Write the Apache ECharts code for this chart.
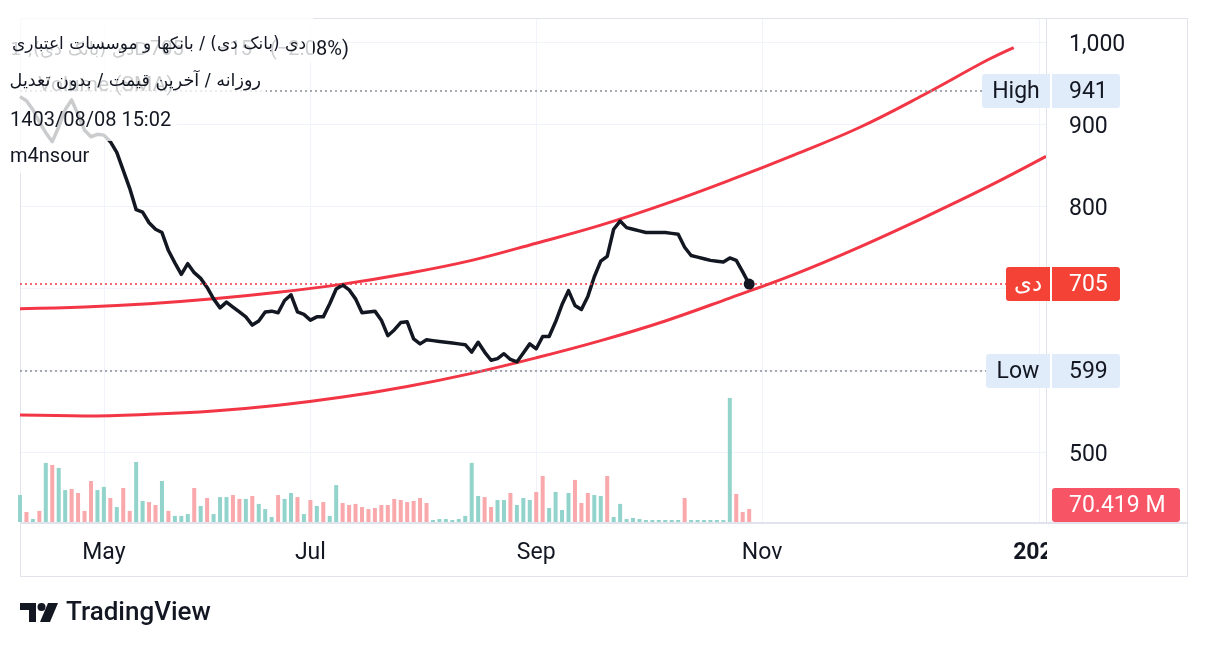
<!DOCTYPE html>
<html><head><meta charset="utf-8">
<script src="https://cdn.jsdelivr.net/npm/echarts@6/dist/echarts.min.js"></script>
<style>html,body{margin:0;padding:0;background:#fff;}#c{width:1208px;height:648px;}</style>
</head><body><div id="c"></div>
<script>
// ---- data ----
const closes = [
934,929,918,903,890,879,897,918,930,912,
893,885,888,887,879,866,844,822,796,793,
780,772,768,746,731,717,730,719,712,701,
687,676,683,677,671,665,655,660,671,672,
670,685,692,671,668,661,665,665,681,699,
704,698,687,670,671,672,661,642,649,658,
659,638,632,637,636,635,634,633,632,631,
622,634,622,612,614,620,613,610,621,632,
626,641,641,659,680,697,679,674,690,714,
733,739,772,782,774,772,770,768,768,768,
768,767,766,750,740,738,736,734,733,732,
737,734,720,705];
const volumesM = [
146,54,16,60,320,309,293,173,179,157,
60,222,173,190,130,81,184,60,325,114,
108,92,222,60,33,33,43,184,87,130,
43,135,135,146,125,125,141,98,70,27,
146,125,157,135,43,119,87,108,33,200,
103,92,98,81,70,76,92,92,125,119,
108,114,130,103,11,16,16,11,16,33,
320,141,135,81,119,119,157,92,130,119,
163,249,76,163,65,157,228,103,157,146,
141,249,27,98,16,22,16,11,11,11,
11,11,11,130,11,11,11,11,11,11,
672,152,54,70.419];
const volumeUp = [
1,0,1,0,1,0,1,1,0,0,
0,0,1,1,0,1,0,0,1,1,
0,0,1,0,1,1,1,0,1,0,
1,1,1,0,0,1,0,1,1,1,
0,1,1,0,1,0,1,0,1,1,
0,0,0,0,0,0,0,0,0,0,
0,0,0,0,1,1,1,1,1,1,
1,1,0,0,1,1,0,1,1,1,
0,0,1,1,1,1,0,0,0,1,
1,0,1,1,1,1,1,1,1,1,
1,1,1,0,1,1,1,1,1,1,
1,0,0,0];
const upperIdx = [0,10,20,30,40,50,60,70,80,90,100,110,120,130,140,150,154];
const upperVal = [675,677,681,687,695,705,718,734,755,777,803,832,863,896,936,979,994];
const lowerIdx = [0,10,20,30,40,50,60,70,80,90,100,110,120,130,140,150,159];
const lowerVal = [545,544,546,550,557,567,580,596,615,636,660,688,717,750,786,824,861];
const tickIdx = [13,45,80,115,158];
const tickLabels = ['May','Jul','Sep','Nov','2025'];
const tickBold = [false,false,false,false,true];
const slotCount = 160;
const priceMin = 414.45, priceMax = 1030.05;
const highValue = 941, lowValue = 599, lastClose = 705;
const lastVolumeText = '70.419 M';
const hiddenPriceLabels = [600, 700];

// ---- chart ----
const TXT = '#131722', GRID = '#f0f3fa', BORDER = '#e0e3eb';
const UPV = '#92d4cb', DNV = '#f9a8ab', RED = '#f23645';
const slots = Array.from({length: slotCount}, (_, i) => String(i));
const chart = echarts.init(document.getElementById('c'), null, {renderer: 'canvas'});
const FONT = 'Roboto';
const FA = '"DejaVu Sans", Roboto';
const isTick = (i) => tickIdx.indexOf(i) >= 0;

chart.setOption({
  animation: false,
  backgroundColor: '#fff',
  grid: {left: 20, right: 162, top: 18, bottom: 126, containLabel: false},
  xAxis: {
    type: 'category', data: slots, boundaryGap: false,
    axisLine: {show: false}, axisTick: {show: false},
    axisLabel: {
      interval: (i) => isTick(i), margin: 20, fontSize: 23, fontFamily: FONT, color: TXT,
      formatter: (v, i) => { const k = tickIdx.indexOf(i); if (k < 0) return ''; return tickBold[k] ? '{b|' + tickLabels[k] + '}' : tickLabels[k]; },
      rich: {b: {fontSize: 23, fontFamily: FONT, fontWeight: 'bold', color: TXT}}
    },
    splitLine: {show: true, interval: (i) => isTick(i), lineStyle: {color: GRID, width: 1}}
  },
  yAxis: [
    {type: 'value', position: 'right', min: priceMin, max: priceMax, splitNumber: 5,
     axisLine: {show: false}, axisTick: {show: false},
     axisLabel: {margin: 23, fontSize: 23, fontFamily: FONT, color: TXT, showMinLabel: false, showMaxLabel: false,
       formatter: (v) => (hiddenPriceLabels.indexOf(v) >= 0 ? '' : '{p|' + v.toLocaleString('en-US') + '}'),
       rich: {p: {fontSize: 23, fontFamily: FONT, color: TXT, padding: [6, 0, 0, 0]}}},
     splitLine: {lineStyle: {color: GRID, width: 1}}},
    {type: 'value', min: 0, max: 2730, show: false, splitLine: {show: false}}
  ],
  series: [
    {type: 'bar', yAxisIndex: 1, barWidth: 4, silent: true, z: 1,
     data: volumesM.map((v, i) => ({value: v, itemStyle: {color: volumeUp[i] ? UPV : DNV}}))},
    {type: 'line', yAxisIndex: 0, smooth: 0.4, showSymbol: false, silent: true, z: 2,
     lineStyle: {color: RED, width: 3}, data: upperIdx.map((x, k) => [x, upperVal[k]])},
    {type: 'line', yAxisIndex: 0, smooth: 0.4, showSymbol: false, silent: true, z: 2,
     lineStyle: {color: RED, width: 3}, data: lowerIdx.map((x, k) => [x, lowerVal[k]])},
    {type: 'line', yAxisIndex: 0, showSymbol: false, silent: true, z: 3,
     lineStyle: {color: TXT, width: 3.5, join: 'round'}, data: closes,
     markLine: {silent: true, symbol: ['none', 'none'], label: {show: false}, animation: false,
       data: [
         {yAxis: highValue, lineStyle: {color: '#8a8d96', type: [2, 3], width: 1.5}},
         {yAxis: lowValue, lineStyle: {color: '#8a8d96', type: [2, 3], width: 1.5}},
         {yAxis: lastClose, lineStyle: {color: RED, type: [2, 3], width: 1.5}}
       ]},
     markPoint: {silent: true, symbol: 'circle', symbolSize: 11, itemStyle: {color: TXT}, label: {show: false},
       data: [{coord: [closes.length - 1, lastClose]}]}}
  ]
});

// ---- overlay graphics (badges, frame, legend, logo) ----
const yP = (v) => chart.convertToPixel({yAxisIndex: 0}, v);
const yV = (v) => chart.convertToPixel({yAxisIndex: 1}, v);
const g = [];
const rect = (x, y, w, h, fill, r, z) => g.push({type: 'rect', z: z, silent: true, shape: {x, y, width: w, height: h, r: r || 0}, style: {fill: fill}});
const text = (x, y, s, opt, z) => g.push({type: 'text', z: z, silent: true, x: x, y: y,
  style: Object.assign({text: s, fontSize: 23, fontFamily: FONT, fill: TXT, align: 'left', verticalAlign: 'middle'}, opt || {})});
const line = (x1, y1, x2, y2, color, w, z) => g.push({type: 'line', z: z, silent: true, shape: {x1, y1, x2, y2}, style: {stroke: color, lineWidth: w}});

// frame
g.push({type: 'rect', z: 1, silent: true, shape: {x: 20.5, y: 18.5, width: 1167, height: 558}, style: {fill: 'none', stroke: BORDER, lineWidth: 1}});
rect(1047, 524, 140, 52, '#fff', 0, 50);
line(1046.5, 18, 1046.5, 523, BORDER, 1, 51);
line(20, 523, 1188, 523, BORDER, 2, 51);

// badges
function badge(left, leftW, leftText, val, bg, fg, fontL) {
  const y = Math.round(yP(val)) - 17;
  rect(left, y, leftW, 34, bg, [3, 0, 0, 3], 60);
  text(left + leftW / 2, y + 18, leftText, {fill: fg, align: 'center', fontFamily: fontL || FONT}, 61);
  rect(1052, y, 68, 34, bg, [0, 3, 3, 0], 60);
  text(1069, y + 18, String(val), {fill: fg}, 61);
}
badge(982, 68, 'High', highValue, '#e1ecfb', TXT);
badge(986, 64, 'Low', lowValue, '#e1ecfb', TXT);
badge(1006, 44, 'دی', lastClose, '#f44336', '#fff', FA);
let vy = Math.round(yV(volumesM[volumesM.length - 1])) - 17;
if (vy + 34 > 522) vy = 522 - 34;
rect(1052, vy, 128, 34, '#f75466', 3, 60);
text(1069, vy + 18, lastVolumeText, {fill: '#fff'}, 61);

// faded TradingView legend under the note boxes
text(10, 50, 'دی (بانک دی), 1D', {fontSize: 18, fontFamily: FA}, 70);
text(150, 50, '705', {fontSize: 20}, 70);
text(218, 50, '−15', {fontSize: 20}, 70);
text(270, 50, '(−2.08%)', {fontSize: 20}, 70);
text(38, 86, 'Volume (SMA)', {fontSize: 21}, 70);

// note boxes
rect(0, 0, 313, 62, 'rgba(255,255,255,0.78)', 0, 80);
rect(0, 62, 266, 37, 'rgba(255,255,255,0.78)', 0, 80);
rect(0, 99, 177, 42, 'rgba(255,255,255,0.78)', 0, 80);
rect(0, 141, 96, 32, 'rgba(255,255,255,0.78)', 0, 80);
text(306, 45, 'دی (بانک دی) / بانکها و موسسات اعتباری', {fontSize: 17, fontFamily: FA, align: 'right'}, 90);
text(261, 81, 'روزانه / آخرین قیمت / بدون تعدیل', {fontSize: 17.6, fontFamily: FA, align: 'right'}, 90);
text(10, 121, '1403/08/08 15:02', {fontSize: 20}, 90);
text(10, 157, 'm4nsour', {fontSize: 20}, 90);

// logo
g.push({type: 'polygon', z: 90, silent: true, shape: {points: [[20, 603], [36, 603], [36, 622], [29, 622], [29, 610], [20, 610]]}, style: {fill: TXT}});
g.push({type: 'circle', z: 90, silent: true, shape: {cx: 41.5, cy: 607, r: 4}, style: {fill: TXT}});
g.push({type: 'polygon', z: 90, silent: true, shape: {points: [[48, 603], [58, 603], [50, 622], [40, 622]]}, style: {fill: TXT}});
text(66, 613, 'TradingView', {fontSize: 26, fontWeight: 500}, 90);

chart.setOption({graphic: {elements: g}});
</script></body></html>
